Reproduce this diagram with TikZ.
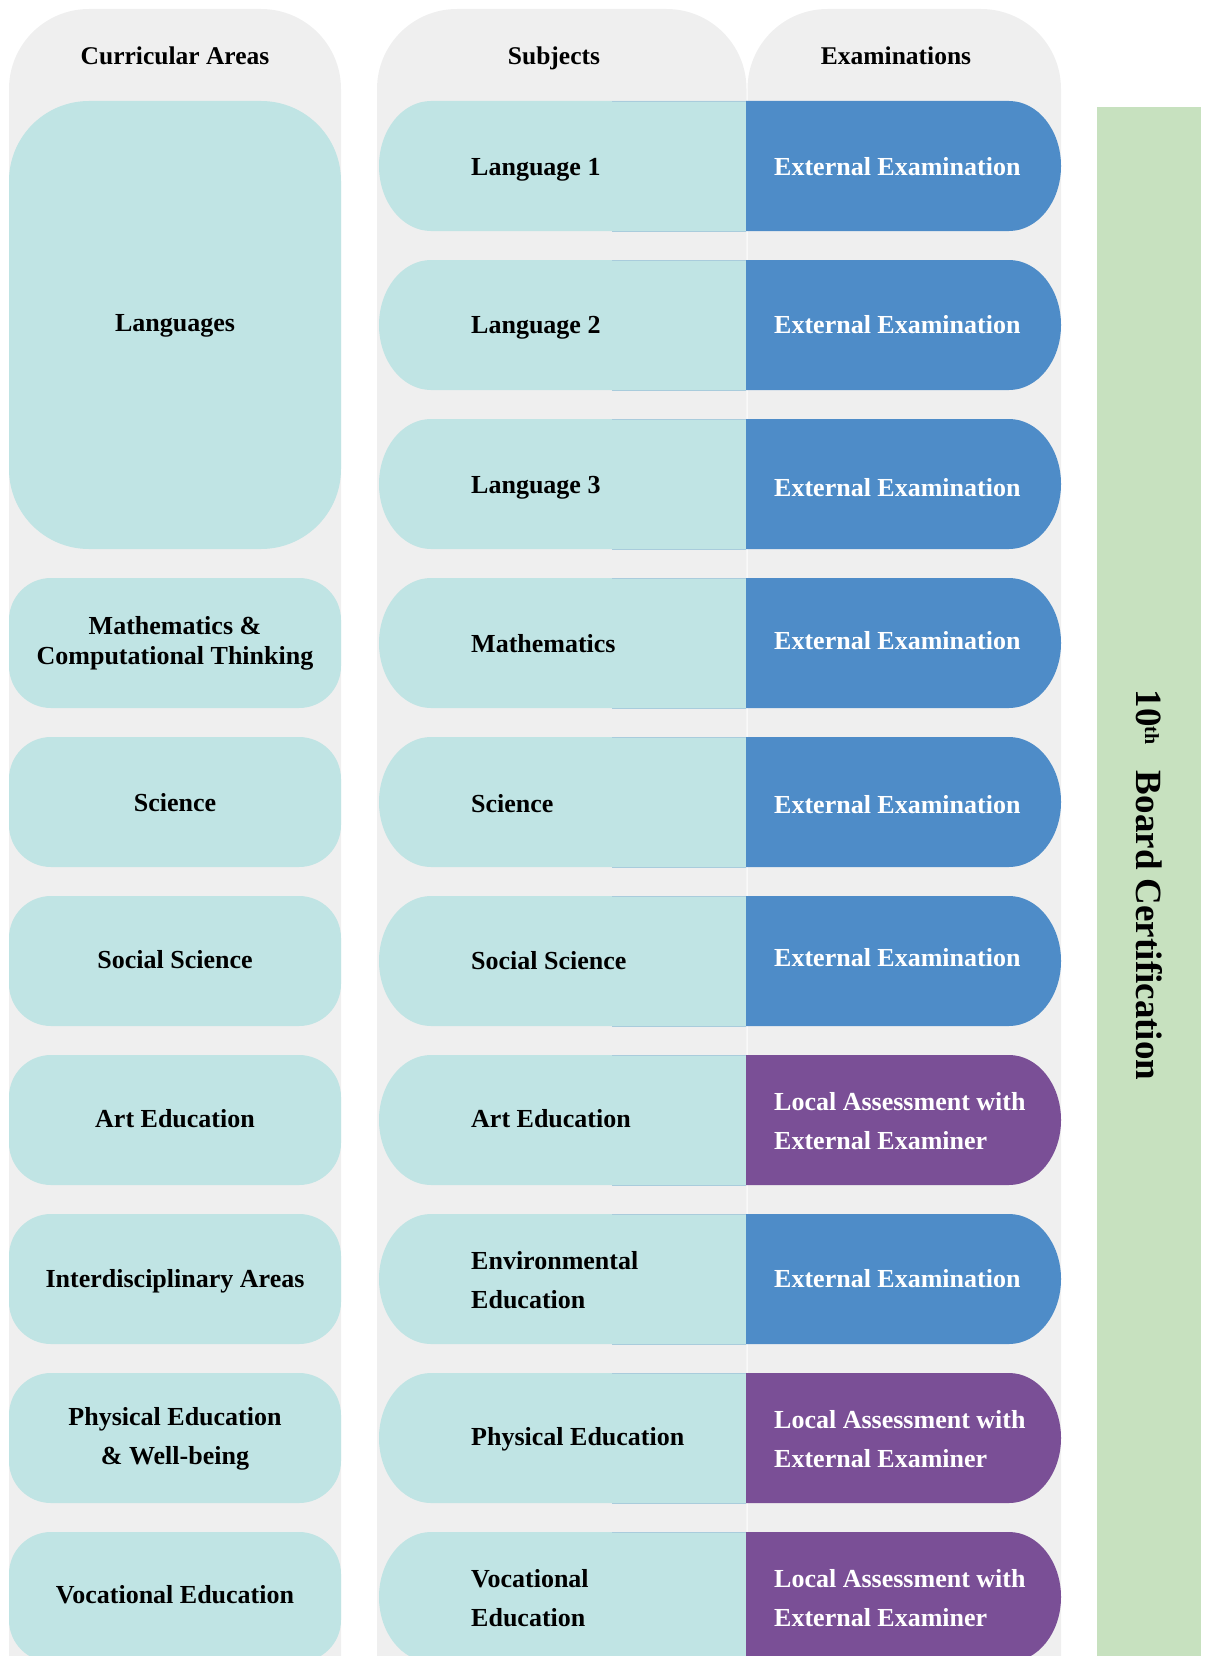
\documentclass[tikz,border=0pt]{standalone}
\usepackage{fontspec}
\setmainfont{Liberation Serif}
\definecolor{bggray}{HTML}{EFEFEF}
\definecolor{tealbox}{HTML}{C0E4E4}
\definecolor{exblue}{HTML}{4E8CC8}
\definecolor{expurple}{HTML}{7A4F96}
\definecolor{certgreen}{HTML}{C7E1BF}
\definecolor{pillline}{HTML}{A9CCDC}
\begin{document}
\begin{tikzpicture}[x=1pt,y=-1pt,
  hdr/.style={font=\fontsize{25.5}{30}\selectfont\bfseries, inner sep=0pt, anchor=base},
  area/.style={font=\fontsize{26}{39}\selectfont\bfseries, inner sep=0pt, align=center, anchor=center},
  subj/.style={font=\fontsize{26}{39}\selectfont\bfseries, inner sep=0pt, align=left, anchor=west},
  exam/.style={font=\fontsize{26}{39}\selectfont\bfseries, inner sep=0pt, align=left, anchor=west, text=white},
  one/.style={text height=17.5pt, text depth=0pt},
  cert/.style={font=\fontsize{37}{44}\selectfont\bfseries, inner sep=0pt, rotate=-90}]
\useasboundingbox (0,0) rectangle (1210,1656);
\clip (0,0) rectangle (1210,1656);
% column backgrounds
\fill[bggray, rounded corners=80] (9,9) rectangle (341,1740);
\fill[bggray, rounded corners=80] (377,9) rectangle (746.5,1740);
\fill[bggray, rounded corners=80] (747.5,9) rectangle (1061,1740);
\fill[certgreen] (1097,107) rectangle (1201,1700);
% subject and exam pills
\foreach \i/\col in {0/exblue,1/exblue,2/exblue,3/exblue,4/exblue,5/exblue,6/expurple,7/exblue,8/expurple,9/expurple} {
  \pgfmathsetmacro\yt{101+159*\i}
  \pgfmathsetmacro\yb{\yt+130}
  \fill[tealbox] (746,\yt) -- (431,\yt) arc[start angle=270,end angle=90,x radius=52,y radius=65] -- (746,\yb) -- cycle;
  \draw[pillline, line width=0.8] (612,\yt) -- (746,\yt) (612,\yb) -- (746,\yb);
  \fill[\col] (746,\yt) -- (1009,\yt) arc[start angle=270,end angle=450,x radius=52,y radius=65] -- (746,\yb) -- cycle;
}
% curricular area boxes
\fill[tealbox, rounded corners=80] (9,101) rectangle (341,549);
\foreach \i in {3,...,9} {
  \pgfmathsetmacro\yt{101+159*\i}
  \pgfmathsetmacro\yb{\yt+130}
  \fill[tealbox, rounded corners=42] (9,\yt) rectangle (341,\yb);
}
% headers
\node[hdr] (hArea) at (175,65) {Curricular Areas};
\node[hdr] (hSubj) at (554,65) {Subjects};
\node[hdr] (hExam) at (896,65) {Examinations};
% areas
\node[area, one] (aLang) at (175,323) {Languages};
\node[area, font=\fontsize{26}{30}\selectfont\bfseries] (aMath) at (175,643) {Mathematics \&\\Computational Thinking};
\node[area, one] (aSci) at (175,803) {Science};
\node[area, one] (aSoc) at (175,960) {Social Science};
\node[area, one] (aArt) at (175,1119) {Art Education};
\node[area, one] (aInt) at (175,1279) {Interdisciplinary Areas};
\node[area] (aPhy) at (175,1439) {Physical Education\\\& Well-being};
\node[area, one] (aVoc) at (175,1595) {Vocational Education};
% subjects
\node[subj, one] (s0) at (471,167) {Language 1};
\node[subj, one] (s1) at (471,325) {Language 2};
\node[subj, one] (s2) at (471,485) {Language 3};
\node[subj, one] (s3) at (471,644) {Mathematics};
\node[subj, one] (s4) at (471,804) {Science};
\node[subj, one] (s5) at (471,961) {Social Science};
\node[subj, one] (s6) at (471,1119) {Art Education};
\node[subj] (s7) at (471,1280) {Environmental\\Education};
\node[subj, one] (s8) at (471,1437) {Physical Education};
\node[subj] (s9) at (471,1598) {Vocational\\Education};
% examinations
\node[exam, one] (e0) at (774,167) {External Examination};
\node[exam, one] (e1) at (774,325) {External Examination};
\node[exam, one] (e2) at (774,488) {External Examination};
\node[exam, one] (e3) at (774,641) {External Examination};
\node[exam, one] (e4) at (774,805) {External Examination};
\node[exam, one] (e5) at (774,958) {External Examination};
\node[exam] (e6) at (774,1121) {Local Assessment with\\External Examiner};
\node[exam, one] (e7) at (774,1279) {External Examination};
\node[exam] (e8) at (774,1439) {Local Assessment with\\External Examiner};
\node[exam] (e9) at (774,1598) {Local Assessment with\\External Examiner};
% certification
\node[cert] (certText) at (1149,885) {10\textsuperscript{\fontsize{20}{20}\selectfont th}\hspace{0.7em}Board Certification};
\end{tikzpicture}
\end{document}
